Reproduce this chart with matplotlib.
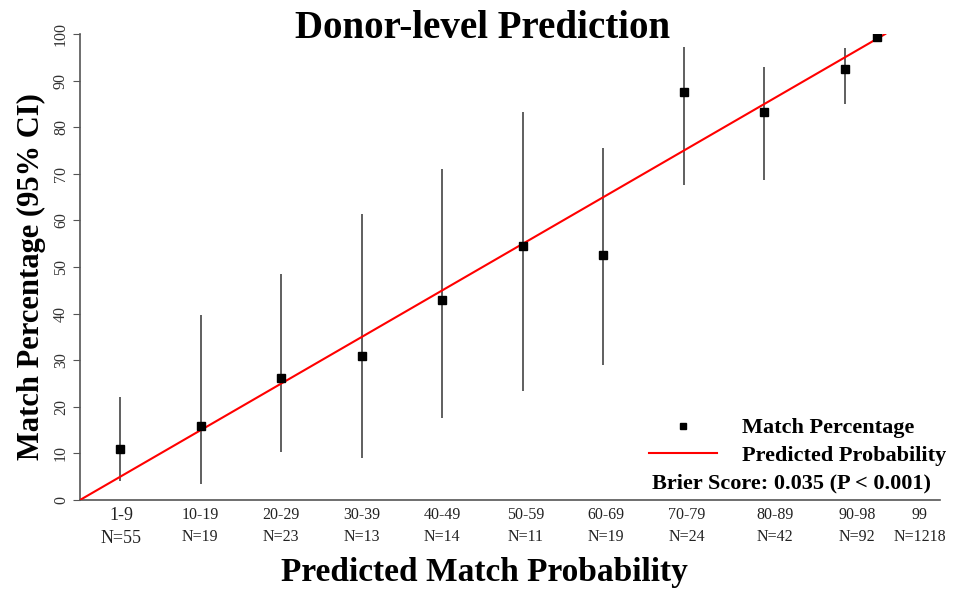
import matplotlib.pyplot as plt
import numpy as np

plt.rcParams['font.family'] = ['Liberation Serif', 'DejaVu Serif']

bins = ["1-9", "10-19", "20-29", "30-39", "40-49", "50-59", "60-69", "70-79", "80-89", "90-98", "99"]
n_obs = [55, 19, 23, 13, 14, 11, 19, 24, 42, 92, 1218]
pred_mid = [5, 15, 25, 35, 45, 55, 65, 75, 85, 95, 99]
match_pct = [10.9, 15.8, 26.1, 30.8, 42.9, 54.5, 52.6, 87.5, 83.3, 92.4, 99.3]
ci_low = [4.1, 3.4, 10.2, 9.1, 17.7, 23.4, 28.9, 67.6, 68.6, 84.9, 98.6]
ci_high = [22.2, 39.6, 48.4, 61.4, 71.1, 83.3, 75.6, 97.3, 93.0, 96.9, 99.7]
pred_line = [0, 100]

# where the category labels sit under the axis (data units)
label_x = [5.1, 14.9, 24.9, 35.0, 45.0, 55.3, 65.3, 75.4, 86.3, 96.5, 104.3]

fig = plt.figure(figsize=(9.59, 5.95), dpi=100)
ax = fig.add_axes([80/959, 95/595, (940-80)/959, (500-34)/595])

x = np.array(pred_mid)
y = np.array(match_pct)
ax.vlines(x, ci_low, ci_high, color='#444444', lw=1.2, zorder=2)
ax.plot(pred_line, pred_line, color='red', lw=1.5, zorder=3, label='Predicted Probability')
ax.plot(x, y, 's', color='black', ms=5.5, zorder=4, label='Match Percentage')

ax.set_xlim(0, 106.8)
ax.set_ylim(0, 100)
ax.set_yticks(range(0, 101, 10))
ax.set_yticklabels([str(v) for v in range(0, 101, 10)], rotation=90, va='center',
                   fontsize=11.5, color='#333333')
ax.set_xticks([])
for s in ['top', 'right']:
    ax.spines[s].set_visible(False)
ax.spines['left'].set_color('#555555')
ax.spines['bottom'].set_color('#555555')
ax.spines['left'].set_linewidth(1.2)
ax.spines['bottom'].set_linewidth(1.2)
ax.tick_params(axis='y', length=5, color='#555555', pad=3)

for i in range(len(bins)):
    fs = 13 if i == 0 else 11.5
    ax.text(label_x[i], -1.6, bins[i] + "\nN=" + str(n_obs[i]), transform=ax.transData,
            ha='center', va='top', fontsize=fs, color='#222222', linespacing=1.45, clip_on=False)

h, l = ax.get_legend_handles_labels()
leg = ax.legend(h[::-1], l[::-1], loc='lower right', bbox_to_anchor=(1.02, 0.05), frameon=False,
                prop={'weight': 'bold', 'size': 16}, handlelength=3.1, handletextpad=1.1,
                labelspacing=0.3, borderpad=0, markerscale=0.75)
ax.text(0.989, 0.036, "Brier Score: 0.035 (P < 0.001)", transform=ax.transAxes,
        ha='right', va='center', fontsize=16, fontweight='bold')

fig.text(483/959, 1 - 28/595, "Donor-level Prediction", ha='center', va='center',
         fontsize=28, fontweight='bold')
fig.text(31/959, 1 - 277/595, "Match Percentage (95% CI)", ha='center', va='center',
         rotation=90, fontsize=22, fontweight='bold')
fig.text(484/959, 1 - 573/595, "Predicted Match Probability", ha='center', va='center',
         fontsize=24, fontweight='bold')

fig.savefig('out.png', dpi=100)
